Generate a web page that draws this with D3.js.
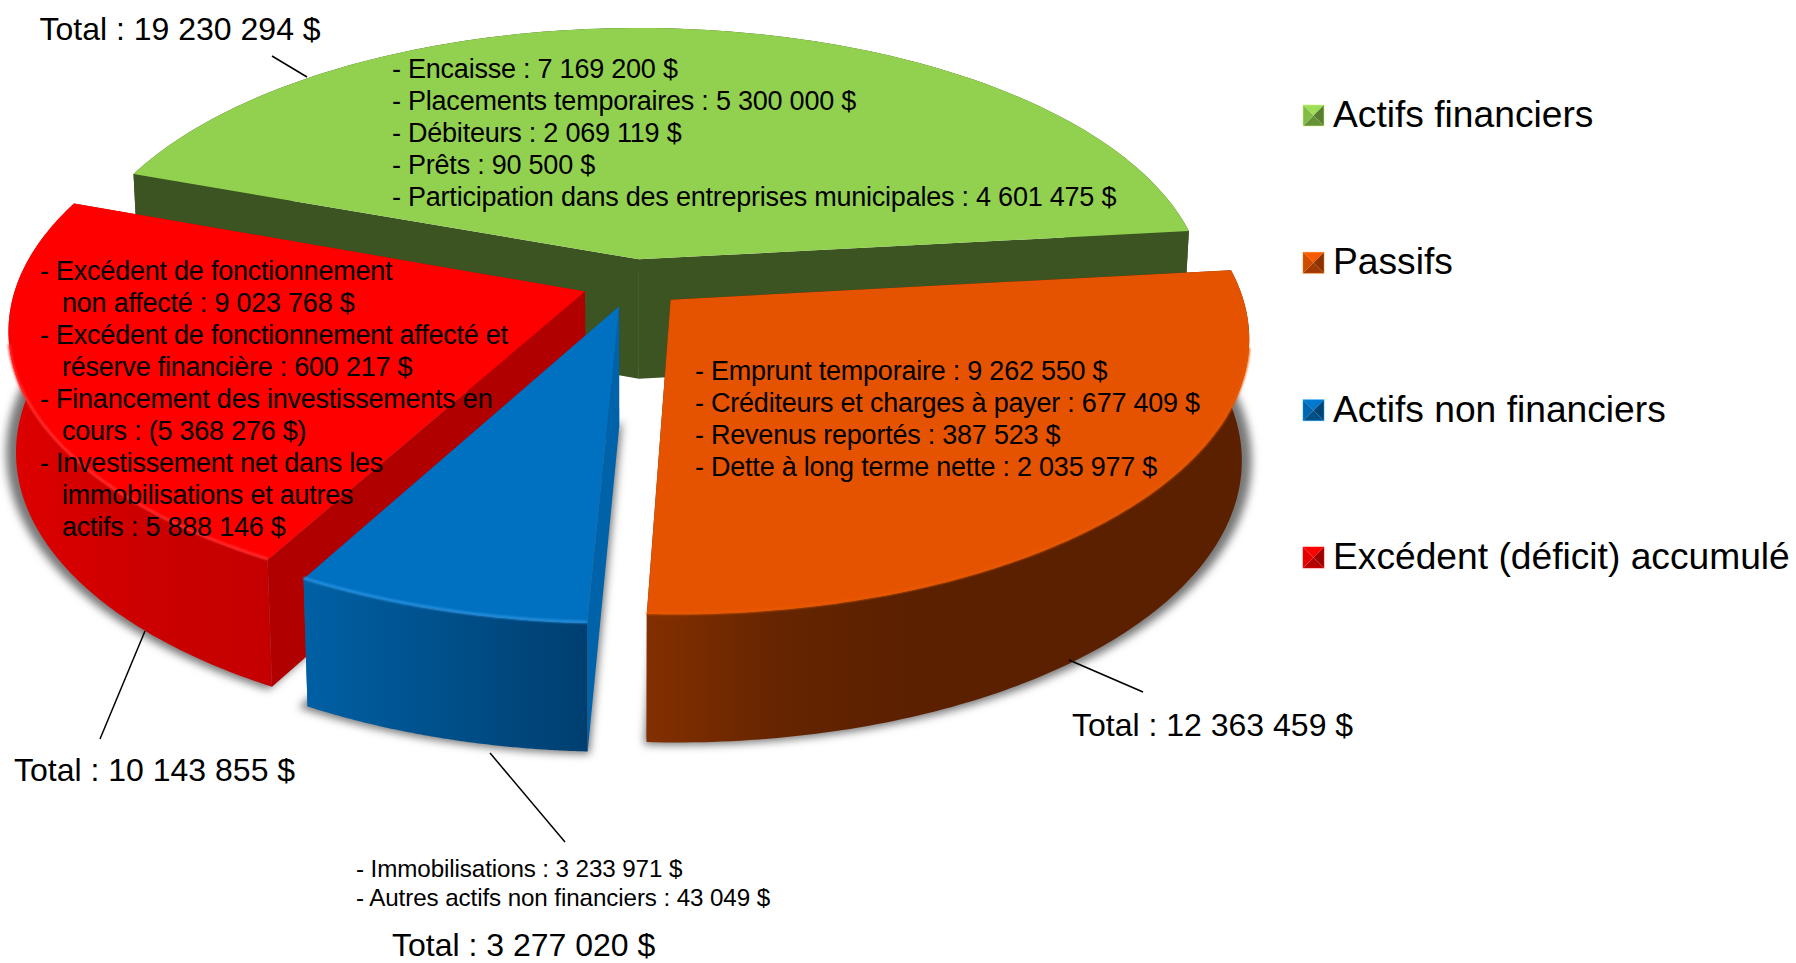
<!DOCTYPE html>
<html>
<head>
<meta charset="utf-8">
<script src="https://cdn.jsdelivr.net/npm/d3@7"></script>
<style>
	html, body { margin: 0; padding: 0; background: #fff; overflow: hidden; }
	text { font-family: "Liberation Sans", Arial, sans-serif; fill: #000; }
</style>
</head>
<body>
<div class="Chart"></div>
<script>
var categories = ['Actifs financiers', 'Passifs', 'Actifs non financiers', 'Excédent (déficit) accumulé'];
var totals = [19230294, 12363459, 3277020, 10143855];
var totalLabels = ['Total : 19 230 294 $', 'Total : 12 363 459 $', 'Total : 3 277 020 $', 'Total : 10 143 855 $'];

var detailsFinanciers = [
	'- Encaisse : 7 169 200 $',
	'- Placements temporaires : 5 300 000 $',
	'- Débiteurs : 2 069 119 $',
	'- Prêts : 90 500 $',
	'- Participation dans des entreprises municipales : 4 601 475 $'
];
var detailsPassifs = [
	'- Emprunt temporaire : 9 262 550 $',
	'- Créditeurs et charges à payer : 677 409 $',
	'- Revenus reportés : 387 523 $',
	'- Dette à long terme nette : 2 035 977 $'
];
var detailsNonFinanciers = [
	'- Immobilisations : 3 233 971 $',
	'- Autres actifs non financiers : 43 049 $'
];
var detailsExcedent = [
	'- Excédent de fonctionnement',
	'  non affecté : 9 023 768 $',
	'- Excédent de fonctionnement affecté et',
	'  réserve financière : 600 217 $',
	'- Financement des investissements en',
	'  cours : (5 368 276 $)',
	'- Investissement net dans les',
	'  immobilisations et autres',
	'  actifs : 5 888 146 $'
];

var width = 1796, height = 963;

// projection of the pie plane on the screen, with some perspective
var cx = 633, cy = 283, radiusX = 568, radiusY = 268, perspective = 0.133;
var explode = 0.09, startAngle = -70.1 * Math.PI / 180;
var bottomScale = 0.988, shadowScale = 1.012;

var topColors = ['#92d050', '#e55300', '#0070c0', '#ff0000'];
var sideColors = ['#3c5322', '#5a2000', '#0062a8', '#b00000'];
var rimColors = [null, '#ea5804', '#2b92e0', '#ff3030'];
var wallStops = [
	[[0, '#3c5322'], [1, '#3c5322']],
	[[0, '#832f00'], [0.22, '#652500'], [0.45, '#5a2000'], [1, '#5a2000']],
	[[0, '#0060a4'], [1, '#003f70']],
	[[0, '#de0000'], [0.5, '#cc0000'], [1, '#c40000']]
];
var drawOrder = [0, 3, 2, 1];

var svg = d3.select('.Chart').append('svg')
	.attr('width', width)
	.attr('height', height)
	.attr('viewBox', '0 0 ' + width + ' ' + height);

var defs = svg.append('defs');
defs.append('filter').attr('id', 'shadowBlur')
	.attr('x', '-10%').attr('y', '-10%').attr('width', '120%').attr('height', '120%')
	.append('feGaussianBlur').attr('stdDeviation', 4);
defs.append('filter').attr('id', 'rimBlur')
	.attr('x', '-5%').attr('y', '-20%').attr('width', '110%').attr('height', '140%')
	.append('feGaussianBlur').attr('stdDeviation', 0.9);

wallStops.forEach(function(stops, i){
	defs.append('linearGradient').attr('id', 'wall' + i)
		.selectAll('stop').data(stops).enter().append('stop')
		.attr('offset', function(d){ return d[0]; })
		.attr('stop-color', function(d){ return d[1]; });
});

var slices = d3.pie().sort(null)
	.startAngle(startAngle)
	.endAngle(startAngle + 2 * Math.PI)(totals);

function project(u, v){
	var w = 1 - perspective * v;
	return [cx + radiusX * u / w, cy + radiusY * v / w, w];
}

// point on a slice, r = 0 is its tip and r = 1 is on the outer edge
function slicePoint(slice, angle, r){
	var mid = (slice.startAngle + slice.endAngle) / 2;
	return project(
		r * Math.sin(angle) + explode * Math.sin(mid),
		-r * Math.cos(angle) - explode * Math.cos(mid)
	);
}

// the walls are a bit taller near the viewer and the bottom is a bit narrower
function drop(p){
	return [cx + (p[0] - cx) * bottomScale, p[1] + 70 + 50 / p[2]];
}

var line = d3.line();

function arcPoints(slice){
	var steps = d3.range(0, 121).map(function(i){ return i / 120; });
	return steps.map(function(t){
		return slicePoint(slice, slice.startAngle + t * (slice.endAngle - slice.startAngle), 1);
	});
}

function closed(points){
	return line(points.map(function(p){ return [p[0], p[1]]; })) + 'Z';
}

// ground shadows of the three pulled out slices, wider on the sides than below
[3, 2, 1].forEach(function(i){
	var slice = slices[i];
	var arc = arcPoints(slice);
	var tip = slicePoint(slice, 0, 0);
	var ground = [tip].concat(arc).map(drop).map(function(p){
		return [cx + (p[0] - cx) * shadowScale, p[1]];
	});
	svg.append('path')
		.attr('d', closed(ground))
		.attr('fill', '#777')
		.attr('stroke', '#777')
		.attr('stroke-width', 5)
		.attr('filter', 'url(#shadowBlur)');
});

drawOrder.forEach(function(i){
	var slice = slices[i];
	var arc = arcPoints(slice);
	var tip = slicePoint(slice, 0, 0);
	var g = svg.append('g').attr('class', 'slice');

	// flat walls along the two radii
	[arc[0], arc[arc.length - 1]].forEach(function(corner){
		g.append('path')
			.attr('d', closed([tip, corner, drop(corner), drop(tip)]))
			.attr('fill', sideColors[i]);
	});

	// curved wall
	g.append('path')
		.attr('d', closed(arc.concat(arc.map(drop).reverse())))
		.attr('fill', 'url(#wall' + i + ')');

	g.append('path')
		.attr('d', closed([tip].concat(arc)))
		.attr('fill', topColors[i]);

	// light edge only where the wall is below it
	if (rimColors[i]) {
		var front = arc.filter(function(p){ return p[2] < 0.97; });
		g.append('path')
			.attr('d', line(front.map(function(p){ return [p[0], p[1] - 1]; })))
			.attr('fill', 'none')
			.attr('stroke', rimColors[i])
			.attr('stroke-width', 2.5)
			.attr('filter', 'url(#rimBlur)');
	}
});

// leader lines
var leaders = [[[272, 56], [307, 77]], [[1069, 660], [1143, 692]], [[490, 753], [565, 842]], [[145, 631], [100, 739]]];
leaders.forEach(function(l){
	svg.append('path')
		.attr('d', line(l))
		.attr('stroke', '#000')
		.attr('stroke-width', 1.5)
		.attr('fill', 'none');
});

function textBlock(lines, x, y, step, size, spacing){
	svg.append('g').selectAll('text')
		.data(lines)
		.enter().append('text')
		.attr('x', function(d){ return d.indexOf('  ') === 0 ? x + 22 : x; })
		.attr('y', function(d, i){ return y + i * step; })
		.attr('font-size', size)
		.attr('letter-spacing', spacing)
		.text(function(d){ return d.trim(); });
}

textBlock(detailsFinanciers, 392, 78, 32, 27, -0.23);
textBlock(detailsPassifs, 695, 380, 32, 27, -0.23);
textBlock(detailsExcedent, 40, 280, 32, 27, -0.23);
textBlock(detailsNonFinanciers, 356, 877, 29, 24.2, -0.1);

textBlock([totalLabels[0]], 39.5, 40, 0, 32, 0);
textBlock([totalLabels[1]], 1072, 736, 0, 32, 0);
textBlock([totalLabels[2]], 392, 956, 0, 32, 0);
textBlock([totalLabels[3]], 14, 781, 0, 32, 0);

// legend with small bevelled squares
var legendY = d3.scalePoint().domain(categories).range([105, 547]);
var bevel = [[0, 0], [1, 0], [1, 1], [0, 1]];
var swatchSize = 21;
categories.forEach(function(name, i){
	var x = 1303, y = legendY(name);
	var base = d3.rgb(topColors[i]);
	var shades = [base.brighter(0.2), base.darker(1.4), base.darker(1), base.darker(0.3)];
	bevel.forEach(function(c, j){
		var next = bevel[(j + 1) % 4];
		svg.append('path')
			.attr('d', closed([
				[x + c[0] * swatchSize, y + c[1] * swatchSize],
				[x + next[0] * swatchSize, y + next[1] * swatchSize],
				[x + swatchSize / 2, y + swatchSize / 2]
			]))
			.attr('fill', shades[j]);
	});
	svg.append('rect')
		.attr('x', x)
		.attr('y', y)
		.attr('width', swatchSize)
		.attr('height', swatchSize)
		.attr('fill', 'none')
		.attr('stroke', base.brighter(1))
		.attr('stroke-opacity', 0.5);
	svg.append('text')
		.attr('x', 1333)
		.attr('y', y + 22)
		.attr('font-size', 37.2)
		.text(name);
});
</script>
</body>
</html>
